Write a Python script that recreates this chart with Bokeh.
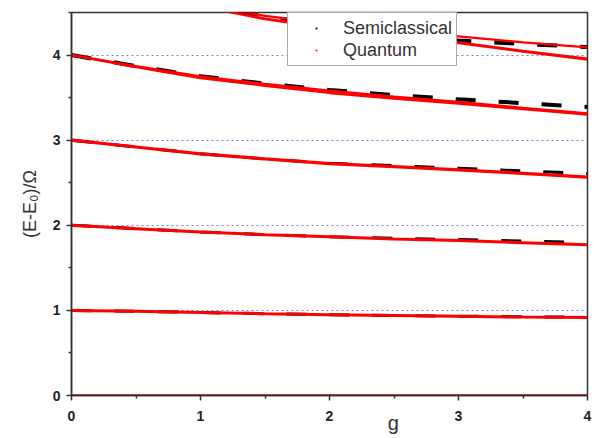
from bokeh.plotting import figure
from bokeh.models import Range1d, FixedTicker, Legend, LegendItem
from bokeh.embed import file_html
from bokeh.resources import INLINE

# coupling values
g = [0, 0.5, 1, 1.5, 2, 2.5, 3, 3.5, 4]

# quantum levels (red)
q0 = [0, 0, 0, 0, 0, 0, 0, 0, 0]
q1 = [1.0, 0.99, 0.975, 0.96, 0.95, 0.94, 0.93, 0.922, 0.915]
q2 = [2.0, 1.96, 1.92, 1.89, 1.865, 1.84, 1.82, 1.795, 1.77]
q3 = [3.0, 2.92, 2.84, 2.78, 2.725, 2.69, 2.65, 2.61, 2.565]
q4a = [4.0, 3.87, 3.75, 3.66, 3.58, 3.51, 3.45, 3.38, 3.315]
q4b = [4.0, 3.86, 3.73, 3.64, 3.555, 3.49, 3.43, 3.365, 3.30]
q5a = [5.0, 4.8, 4.6, 4.46, 4.37, 4.29, 4.22, 4.15, 4.09]
q5b = [5.0, 4.79, 4.58, 4.43, 4.32, 4.23, 4.15, 4.05, 3.96]
q5c = [5.0, 4.78, 4.57, 4.42, 4.31, 4.22, 4.14, 4.04, 3.945]

# semiclassical levels (black)
s1 = [1.0, 0.99, 0.975, 0.96, 0.95, 0.94, 0.932, 0.925, 0.919]
s2 = [2.0, 1.96, 1.92, 1.89, 1.866, 1.846, 1.832, 1.815, 1.799]
s3 = [3.0, 2.92, 2.84, 2.78, 2.728, 2.70, 2.67, 2.638, 2.607]
s4 = [4.0, 3.87, 3.752, 3.665, 3.59, 3.53, 3.48, 3.435, 3.39]
s5 = [5.0, 4.79, 4.59, 4.45, 4.35, 4.26, 4.17, 4.13, 4.095]

x_ticks = [0, 1, 2, 3, 4]
x_minor = [0.5, 1.5, 2.5, 3.5]
y_ticks = [0, 1, 2, 3, 4]
y_minor = [0.5, 1.5, 2.5, 3.5, 4.5]
x_label = "g"
y_label = "(E-E\u2080)/\u03a9"

p = figure(width=596, height=438, output_backend="svg", toolbar_location=None,
           x_range=Range1d(0, 4), y_range=Range1d(0, 4.5),
           min_border_left=71, min_border_right=9, min_border_top=12, min_border_bottom=43)

p.background_fill_color = "white"
p.border_fill_color = "white"
p.outline_line_color = "#333333"
p.outline_line_width = 1.5

p.xgrid.visible = False
p.ygrid.ticker = FixedTicker(ticks=[1, 2, 3, 4])
p.ygrid.grid_line_color = "#7d7dd6"
p.ygrid.grid_line_dash = "2 3"
p.ygrid.grid_line_width = 1

for ax, maj, mn in ((p.xaxis[0], x_ticks, x_minor), (p.yaxis[0], y_ticks, y_minor)):
    ax.ticker = FixedTicker(ticks=maj, minor_ticks=mn)
    ax.axis_line_color = "#333333"
    ax.axis_line_width = 1.5
    ax.major_tick_line_color = "#333333"
    ax.minor_tick_line_color = "#333333"
    ax.major_tick_line_width = 1.5
    ax.minor_tick_line_width = 1.5
    ax.major_tick_out = 5
    ax.major_tick_in = 0
    ax.minor_tick_out = 3
    ax.minor_tick_in = 0
    ax.major_label_text_font = "Liberation Sans"
    ax.major_label_text_font_size = "14px"
    ax.major_label_text_font_style = "bold"
    ax.major_label_text_color = "#222222"

p.xaxis.major_label_standoff = 10
p.yaxis.major_label_standoff = 6

# x title sits right of centre in the original: pad it with no-break spaces
p.xaxis.axis_label = "\u00a0" * 23 + x_label
p.xaxis.axis_label_text_font = "Liberation Sans"
p.xaxis.axis_label_text_font_size = "20px"
p.xaxis.axis_label_text_font_style = "normal"
p.xaxis.axis_label_text_color = "#333333"
p.xaxis.axis_label_standoff = -12

p.yaxis.axis_label = y_label
p.yaxis.axis_label_text_font = "Liberation Sans"
p.yaxis.axis_label_text_font_size = "18px"
p.yaxis.axis_label_text_font_style = "normal"
p.yaxis.axis_label_text_color = "#333333"
p.yaxis.axis_label_standoff = 10

# semiclassical dashed curves
for s, w in ((s1, 3), (s2, 3), (s3, 3), (s4, 4), (s5, 4)):
    p.line(g, s, line_color="black", line_width=w, line_dash="20 23")

# quantum curves
for q, w in ((q0, 2.5), (q1, 3), (q2, 3), (q3, 3.2), (q4a, 2.4), (q4b, 2.4),
             (q5a, 2.2), (q5b, 2), (q5c, 2)):
    p.line(g, q, line_color="#ff0000", line_width=w)

# legend renderers: first point of the top level lies above the visible range
r_sc = p.scatter(g[:1], s5[:1], marker="dot", size=4, color="black")
r_q = p.scatter(g[:1], q5a[:1], marker="dot", size=4, color="#ff2020")
legend = Legend(items=[LegendItem(label="Semiclassical", renderers=[r_sc]),
                       LegendItem(label="Quantum", renderers=[r_q])],
                location=(216, 329), padding=4, spacing=0, margin=0,
                glyph_width=48, glyph_height=22, label_height=22, label_standoff=3,
                label_text_font="Liberation Sans", label_text_font_size="18px",
                label_text_color="#333333",
                border_line_color="#555555", border_line_width=1,
                background_fill_color="white", background_fill_alpha=1)
p.add_layout(legend, "center")

open("out.html", "w").write(file_html(p, INLINE))
